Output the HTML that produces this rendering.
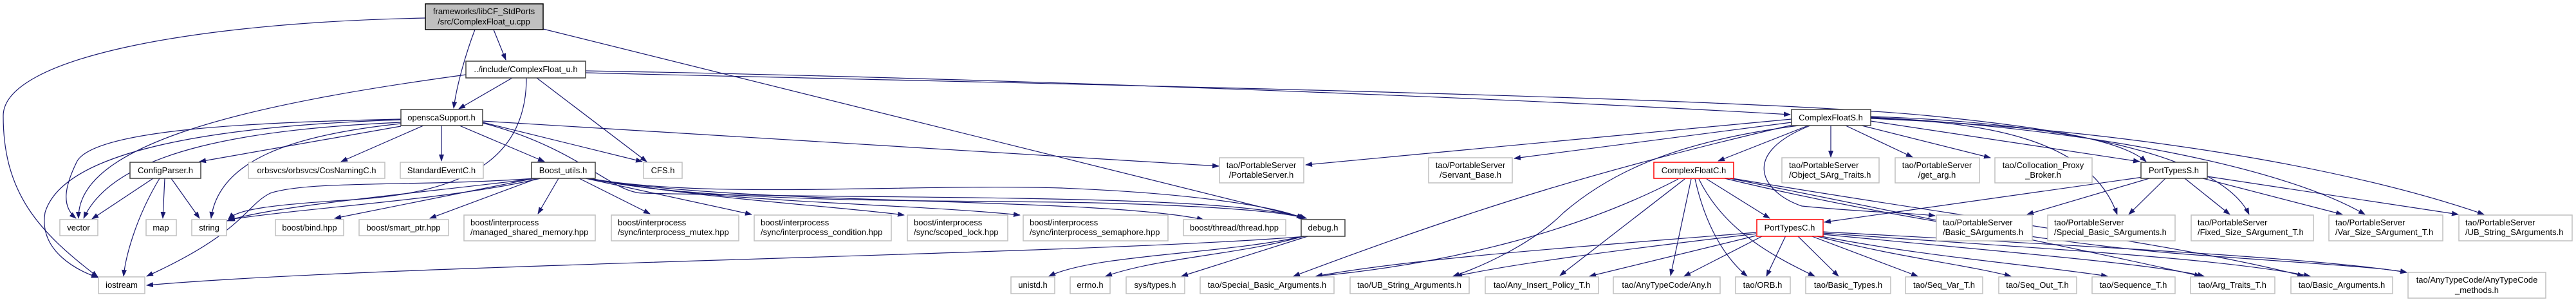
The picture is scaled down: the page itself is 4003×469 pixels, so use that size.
<!DOCTYPE html>
<html><head><meta charset="utf-8"><style>
html,body{margin:0;padding:0;background:#fff;}
svg{display:block;}
text{font-family:"Liberation Sans",sans-serif;font-size:13px;fill:#000;}
.g{fill:#fff;stroke:#bfbfbf;stroke-width:1.5}
.b{fill:#fff;stroke:#404040;stroke-width:1.5}
.r{fill:#fff;stroke:#ff0000;stroke-width:1.5}
.e path{fill:none;stroke:#191970;stroke-width:1.2;marker-end:url(#a)}
</style></head><body>
<svg width="4003" height="469" viewBox="0 0 4003 469" xmlns="http://www.w3.org/2000/svg">
<defs><marker id="a" markerWidth="11" markerHeight="8" refX="10" refY="4" orient="auto" markerUnits="userSpaceOnUse"><path d="M0,0 L11,4 L0,8z" fill="#191970"/></marker></defs>
<g class="e">
<path d="M661,28 C300,35 5,90 5,180 C5,300 60,360 152,430"/>
<path d="M767,46 L786,93"/>
<path d="M738,46 C725,80 710,130 705,168"/>
<path d="M844,45 L2030,339"/>
<path d="M796,121 L713,169"/>
<path d="M724,116 C400,160 120,220 122,339"/>
<path d="M818,121 C818,260 700,300 550,310 C420,318 370,325 355,340"/>
<path d="M834,121 L1005,251"/>
<path d="M910,110 C1500,120 2300,150 2782,178"/>
<path d="M910,113 C1600,130 2700,150 3000,180 C3200,200 3300,220 3335,251"/>
<path d="M623,185 C400,190 150,200 120,250 C100,290 95,320 118,339"/>
<path d="M623,190 C400,200 180,230 130,339"/>
<path d="M623,186 C350,195 100,230 70,330 C60,390 120,420 152,431"/>
<path d="M623,196 L310,251"/>
<path d="M623,192 C450,210 340,250 328,339"/>
<path d="M658,195 L530,251"/>
<path d="M686,195 L686,250"/>
<path d="M714,195 L846,251"/>
<path d="M750,190 L998,251"/>
<path d="M750,191 C900,230 950,300 1000,300 C1400,310 1900,300 2030,339"/>
<path d="M750,188 L1894,258"/>
<path d="M238,277 L143,340"/>
<path d="M248,277 C210,340 195,400 192,429"/>
<path d="M256,277 L253,339"/>
<path d="M266,277 L310,339"/>
<path d="M840,277 C700,310 500,320 355,341"/>
<path d="M835,277 C650,300 420,320 353,343"/>
<path d="M832,277 C650,290 480,280 420,300 C380,320 380,360 228,429"/>
<path d="M830,277 L520,339"/>
<path d="M835,277 L668,339"/>
<path d="M868,277 L836,332"/>
<path d="M900,277 L1010,332"/>
<path d="M910,277 L1168,333"/>
<path d="M915,277 C1100,310 1300,320 1405,334"/>
<path d="M915,277 C1100,315 1400,315 1585,334"/>
<path d="M915,277 C1150,320 1700,305 1870,341"/>
<path d="M915,277 C1100,310 1400,285 1650,292 C1850,300 1980,320 2025,339"/>
<path d="M915,277 C1100,318 1500,310 1700,315 C1900,320 2000,330 2028,339"/>
<path d="M2030,367 C1700,395 600,410 228,443"/>
<path d="M2025,367 C1900,395 1700,395 1630,429"/>
<path d="M2025,367 C1930,395 1800,400 1718,429"/>
<path d="M2032,367 L1836,429"/>
<path d="M2784,185 L2029,256"/>
<path d="M2784,190 L2353,246"/>
<path d="M2790,193 C2500,260 2300,320 2010,429"/>
<path d="M2795,195 C2600,220 2500,270 2430,330 C2380,380 2300,415 2258,429"/>
<path d="M2810,195 L2670,250"/>
<path d="M2845,195 L2845,244"/>
<path d="M2868,195 L2972,244"/>
<path d="M2893,195 L3093,245"/>
<path d="M2907,188 L3325,251"/>
<path d="M2907,183 C3100,190 3250,220 3290,333"/>
<path d="M2907,181 C3200,190 3450,240 3495,333"/>
<path d="M2907,182 C3250,200 3550,260 3675,333"/>
<path d="M2907,184 C3300,200 3650,260 3860,333"/>
<path d="M2813,195 C2700,240 2740,300 2800,320 C2900,330 2960,330 3007,335"/>
<path d="M2608,278 C2450,360 2250,410 2045,429"/>
<path d="M2618,278 L2424,428"/>
<path d="M2628,278 L2596,428"/>
<path d="M2634,278 C2650,350 2680,400 2715,429"/>
<path d="M2640,278 C2680,360 2760,400 2820,429"/>
<path d="M2652,278 L2750,339"/>
<path d="M2680,277 C2900,330 3200,380 3400,395 C3600,410 3700,415 3740,423"/>
<path d="M2688,277 C2950,330 3250,390 3420,429"/>
<path d="M2692,277 C3000,330 3400,380 3580,429"/>
<path d="M2729,361 C2500,380 2200,400 2045,429"/>
<path d="M2729,363 C2500,390 2350,410 2262,429"/>
<path d="M2729,366 L2470,429"/>
<path d="M2740,366 L2617,429"/>
<path d="M2775,366 L2745,429"/>
<path d="M2793,366 L2857,429"/>
<path d="M2813,366 L2980,429"/>
<path d="M2820,366 C2950,400 3050,410 3125,429"/>
<path d="M2825,366 C3000,400 3150,410 3275,429"/>
<path d="M2833,364 C3100,390 3350,410 3425,429"/>
<path d="M2833,362 C3150,385 3450,400 3590,429"/>
<path d="M2833,360 C3200,380 3600,400 3740,423"/>
<path d="M3330,275 L2835,345"/>
<path d="M3340,277 L3150,333"/>
<path d="M3365,277 L3308,333"/>
<path d="M3395,277 L3465,333"/>
<path d="M3423,277 L3640,333"/>
<path d="M3430,274 L3820,333"/>
</g>
<g text-anchor="middle">
<rect x="661" y="6" width="183" height="40" fill="#bfbfbf" stroke="#000" stroke-width="1.5"/>
<text x="752" y="22">frameworks/libCF_StdPorts</text><text x="752" y="38">/src/ComplexFloat_u.cpp</text>
<rect class="b" x="724" y="95" width="186" height="26"/><text x="817" y="112">../include/ComplexFloat_u.h</text>
<rect class="b" x="623" y="170" width="127" height="25"/><text x="686" y="187">openscaSupport.h</text>
<rect class="b" x="202" y="252" width="110" height="25"/><text x="257" y="269">ConfigParser.h</text>
<rect class="g" x="386" y="252" width="212" height="25"/><text x="492" y="269">orbsvcs/orbsvcs/CosNamingC.h</text>
<rect class="g" x="622" y="252" width="129" height="25"/><text x="686" y="269">StandardEventC.h</text>
<rect class="b" x="826" y="252" width="99" height="25"/><text x="875" y="269">Boost_utils.h</text>
<rect class="g" x="1000" y="252" width="60" height="25"/><text x="1030" y="269">CFS.h</text>
<rect class="g" x="93" y="341" width="59" height="25"/><text x="122" y="358">vector</text>
<rect class="g" x="227" y="341" width="47" height="25"/><text x="250" y="358">map</text>
<rect class="g" x="298" y="341" width="54" height="25"/><text x="325" y="358">string</text>
<rect class="g" x="428" y="341" width="106" height="25"/><text x="481" y="358">boost/bind.hpp</text>
<rect class="g" x="558" y="341" width="139" height="25"/><text x="627" y="358">boost/smart_ptr.hpp</text>
<rect class="g" x="1839" y="341" width="159" height="25"/><text x="1918" y="358">boost/thread/thread.hpp</text>
<rect class="b" x="2022" y="341" width="68" height="26"/><text x="2056" y="358">debug.h</text>
<rect class="g" x="1895" y="245" width="131" height="39"/><text x="1960" y="261">tao/PortableServer</text><text x="1960" y="276">/PortableServer.h</text>
<rect class="g" x="2220" y="245" width="130" height="39"/><text x="2285" y="261">tao/PortableServer</text><text x="2285" y="276">/Servant_Base.h</text>
<rect class="r" x="2570" y="252" width="124" height="25"/><text x="2632" y="269">ComplexFloatC.h</text>
<rect class="r" x="2730" y="341" width="103" height="26"/><text x="2781" y="358">PortTypesC.h</text>
<rect class="b" x="2784" y="170" width="123" height="25"/><text x="2845" y="187">ComplexFloatS.h</text>
<rect class="b" x="3327" y="252" width="103" height="25"/><text x="3378" y="269">PortTypesS.h</text>
<rect class="g" x="2945" y="245" width="131" height="39"/><text x="3010" y="261">tao/PortableServer</text><text x="3010" y="276">/get_arg.h</text>
<rect class="g" x="3100" y="245" width="151" height="39"/><text x="3175" y="261">tao/Collocation_Proxy</text><text x="3175" y="276">_Broker.h</text>
<rect class="g" x="153" y="430" width="72" height="26"/><text x="189" y="447">iostream</text>
<rect class="g" x="1571" y="430" width="68" height="26"/><text x="1605" y="447">unistd.h</text>
<rect class="g" x="1663" y="430" width="62" height="26"/><text x="1694" y="447">errno.h</text>
<rect class="g" x="1750" y="430" width="91" height="26"/><text x="1795" y="447">sys/types.h</text>
<rect class="g" x="1865" y="430" width="208" height="26"/><text x="1969" y="447">tao/Special_Basic_Arguments.h</text>
<rect class="g" x="2098" y="430" width="185" height="26"/><text x="2190" y="447">tao/UB_String_Arguments.h</text>
<rect class="g" x="2308" y="430" width="176" height="26"/><text x="2396" y="447">tao/Any_Insert_Policy_T.h</text>
<rect class="g" x="2507" y="430" width="166" height="26"/><text x="2590" y="447">tao/AnyTypeCode/Any.h</text>
<rect class="g" x="2697" y="430" width="85" height="26"/><text x="2739" y="447">tao/ORB.h</text>
<rect class="g" x="2806" y="430" width="132" height="26"/><text x="2872" y="447">tao/Basic_Types.h</text>
<rect class="g" x="2961" y="430" width="120" height="26"/><text x="3021" y="447">tao/Seq_Var_T.h</text>
<rect class="g" x="3106" y="430" width="121" height="26"/><text x="3166" y="447">tao/Seq_Out_T.h</text>
<rect class="g" x="3251" y="430" width="129" height="26"/><text x="3315" y="447">tao/Sequence_T.h</text>
<rect class="g" x="3404" y="430" width="131" height="26"/><text x="3469" y="447">tao/Arg_Traits_T.h</text>
<rect class="g" x="3560" y="430" width="158" height="26"/><text x="3639" y="447">tao/Basic_Arguments.h</text>
<rect class="g" x="3742" y="423" width="214" height="40"/><text x="3849" y="439">tao/AnyTypeCode/AnyTypeCode</text><text x="3849" y="455">_methods.h</text>
</g>
<g>
<rect class="g" x="721" y="334" width="204" height="40"/><text x="731" y="350">boost/interprocess</text><text x="731" y="365">/managed_shared_memory.hpp</text>
<rect class="g" x="950" y="334" width="198" height="40"/><text x="960" y="350">boost/interprocess</text><text x="960" y="365">/sync/interprocess_mutex.hpp</text>
<rect class="g" x="1172" y="334" width="213" height="40"/><text x="1182" y="350">boost/interprocess</text><text x="1182" y="365">/sync/interprocess_condition.hpp</text>
<rect class="g" x="1410" y="334" width="156" height="40"/><text x="1420" y="350">boost/interprocess</text><text x="1420" y="365">/sync/scoped_lock.hpp</text>
<rect class="g" x="1590" y="334" width="225" height="40"/><text x="1600" y="350">boost/interprocess</text><text x="1600" y="365">/sync/interprocess_semaphore.hpp</text>
<rect class="g" x="2769" y="245" width="151" height="39"/><text x="2780" y="261">tao/PortableServer</text><text x="2780" y="276">/Object_SArg_Traits.h</text>
<rect class="g" x="3009" y="334" width="149" height="40"/><text x="3019" y="350">tao/PortableServer</text><text x="3019" y="365">/Basic_SArguments.h</text>
<rect class="g" x="3182" y="334" width="198" height="40"/><text x="3192" y="350">tao/PortableServer</text><text x="3192" y="365">/Special_Basic_SArguments.h</text>
<rect class="g" x="3405" y="334" width="190" height="40"/><text x="3415" y="350">tao/PortableServer</text><text x="3415" y="365">/Fixed_Size_SArgument_T.h</text>
<rect class="g" x="3619" y="334" width="177" height="40"/><text x="3629" y="350">tao/PortableServer</text><text x="3629" y="365">/Var_Size_SArgument_T.h</text>
<rect class="g" x="3821" y="334" width="176" height="40"/><text x="3831" y="350">tao/PortableServer</text><text x="3831" y="365">/UB_String_SArguments.h</text>
</g>
</svg>
</body></html>
